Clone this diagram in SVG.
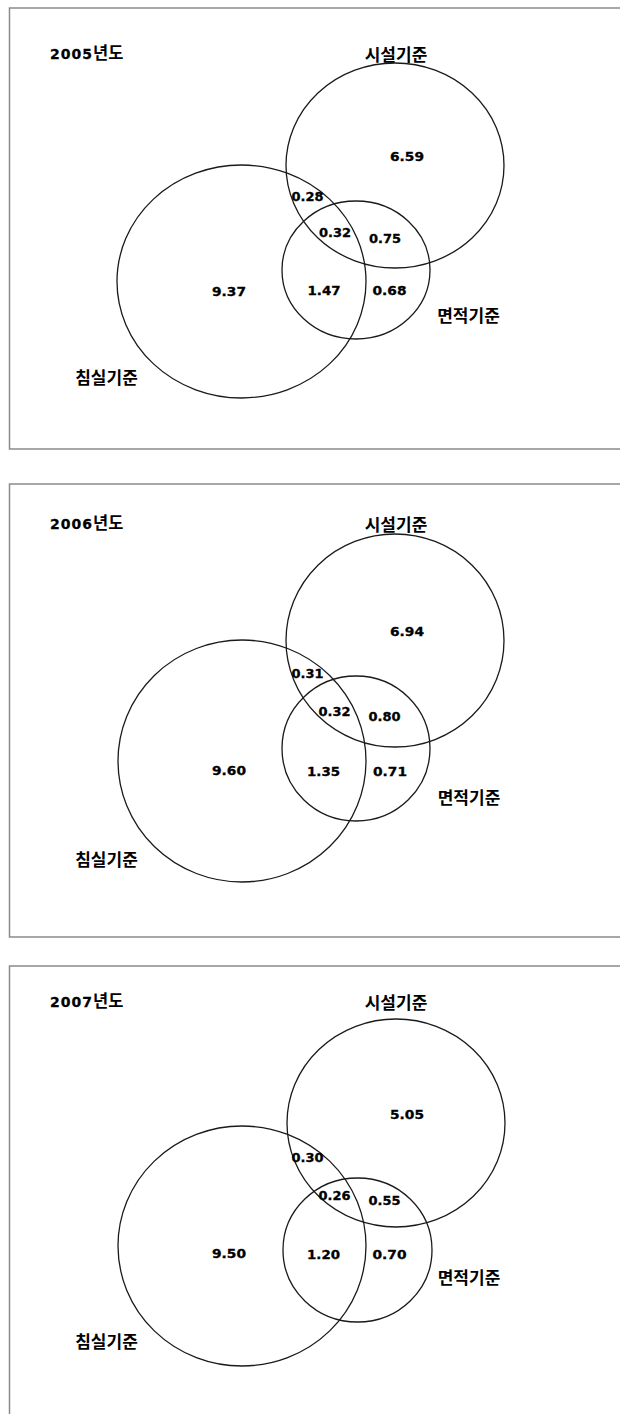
<svg xmlns="http://www.w3.org/2000/svg" width="620" height="1414" viewBox="0 0 620 1414">
<style>
.frame{fill:none;stroke:#8a8a8a;stroke-width:1.5}
.set{fill:none;stroke:#1a1a1a;stroke-width:1.3}
.num{font-family:"DejaVu Sans","Liberation Sans",sans-serif;font-weight:bold;font-size:12px;fill:#000;stroke:#000;stroke-width:0.3;text-anchor:middle}
.lbl{font-family:"Noto Sans CJK KR","Noto Sans",sans-serif;font-weight:bold;font-size:17px;fill:#000;text-anchor:middle}
.ttl{fill:#000}
.dg{font-family:"DejaVu Sans","Liberation Sans",sans-serif;font-weight:bold;font-size:14px;letter-spacing:1px;stroke:#000;stroke-width:0.3}
.kr{font-family:"Noto Sans CJK KR","Noto Sans",sans-serif;font-weight:bold;font-size:16.5px;letter-spacing:0}
</style>
<rect x="0" y="0" width="620" height="1414" fill="#fff"/>

<g id="panel-2005">
<rect class="frame" x="9.5" y="8" width="620" height="441"/>
<text id="title-2005" class="ttl" x="50" y="58.5"><tspan class="dg">2005</tspan><tspan class="kr">년도</tspan></text>
<g id="set-facility-2005"><ellipse class="set" cx="395" cy="165.5" rx="109" ry="102.5"/><text class="lbl" x="396" y="60.5">시설기준</text></g>
<g id="set-area-2005"><ellipse class="set" cx="356" cy="270" rx="74" ry="69"/><text class="lbl" x="468.5" y="321.5">면적기준</text></g>
<g id="set-bedroom-2005"><ellipse class="set" cx="241.5" cy="281.5" rx="124.5" ry="116.5"/><text class="lbl" x="106.5" y="383.5">침실기준</text></g>
<g id="values-2005">
<text class="num" x="407" y="161.4" textLength="34" lengthAdjust="spacingAndGlyphs">6.59</text>
<text class="num" x="307.5" y="201.4" textLength="32" lengthAdjust="spacingAndGlyphs">0.28</text>
<text class="num" x="335" y="237.4" textLength="32" lengthAdjust="spacingAndGlyphs">0.32</text>
<text class="num" x="385" y="243.4" textLength="32" lengthAdjust="spacingAndGlyphs">0.75</text>
<text class="num" x="324" y="295.4" textLength="33" lengthAdjust="spacingAndGlyphs">1.47</text>
<text class="num" x="389.5" y="295.4" textLength="34" lengthAdjust="spacingAndGlyphs">0.68</text>
<text class="num" x="229" y="296.4" textLength="34" lengthAdjust="spacingAndGlyphs">9.37</text>
</g>
</g>

<g id="panel-2006">
<rect class="frame" x="9.5" y="484" width="620" height="453"/>
<text id="title-2006" class="ttl" x="50" y="528.5"><tspan class="dg">2006</tspan><tspan class="kr">년도</tspan></text>
<g id="set-facility-2006"><ellipse class="set" cx="395" cy="640.5" rx="109" ry="106.5"/><text class="lbl" x="396" y="530.5">시설기준</text></g>
<g id="set-area-2006"><ellipse class="set" cx="356" cy="748.5" rx="74" ry="72.5"/><text class="lbl" x="469" y="803.5">면적기준</text></g>
<g id="set-bedroom-2006"><ellipse class="set" cx="242" cy="761" rx="124" ry="121"/><text class="lbl" x="106.5" y="865.5">침실기준</text></g>
<g id="values-2006">
<text class="num" x="407" y="636.4" textLength="34" lengthAdjust="spacingAndGlyphs">6.94</text>
<text class="num" x="307.5" y="678.4" textLength="32" lengthAdjust="spacingAndGlyphs">0.31</text>
<text class="num" x="334.5" y="716.4" textLength="32" lengthAdjust="spacingAndGlyphs">0.32</text>
<text class="num" x="384.5" y="721.4" textLength="32" lengthAdjust="spacingAndGlyphs">0.80</text>
<text class="num" x="323.5" y="776.4" textLength="33" lengthAdjust="spacingAndGlyphs">1.35</text>
<text class="num" x="390" y="776.4" textLength="34" lengthAdjust="spacingAndGlyphs">0.71</text>
<text class="num" x="229" y="775.4" textLength="34" lengthAdjust="spacingAndGlyphs">9.60</text>
</g>
</g>

<g id="panel-2007">
<rect class="frame" x="9.5" y="966" width="620" height="460"/>
<text id="title-2007" class="ttl" x="50" y="1006.5"><tspan class="dg">2007</tspan><tspan class="kr">년도</tspan></text>
<g id="set-facility-2007"><ellipse class="set" cx="396" cy="1123" rx="109" ry="104"/><text class="lbl" x="396" y="1009">시설기준</text></g>
<g id="set-area-2007"><ellipse class="set" cx="357.5" cy="1250" rx="74.5" ry="72"/><text class="lbl" x="469" y="1284">면적기준</text></g>
<g id="set-bedroom-2007"><ellipse class="set" cx="242" cy="1246" rx="124" ry="120"/><text class="lbl" x="106.5" y="1348">침실기준</text></g>
<g id="values-2007">
<text class="num" x="407" y="1119.4" textLength="34" lengthAdjust="spacingAndGlyphs">5.05</text>
<text class="num" x="307.5" y="1162.4" textLength="32" lengthAdjust="spacingAndGlyphs">0.30</text>
<text class="num" x="334.5" y="1200.4" textLength="32" lengthAdjust="spacingAndGlyphs">0.26</text>
<text class="num" x="384.5" y="1205.4" textLength="32" lengthAdjust="spacingAndGlyphs">0.55</text>
<text class="num" x="323.5" y="1259.4" textLength="33" lengthAdjust="spacingAndGlyphs">1.20</text>
<text class="num" x="389.5" y="1259.4" textLength="34" lengthAdjust="spacingAndGlyphs">0.70</text>
<text class="num" x="229" y="1258.4" textLength="34" lengthAdjust="spacingAndGlyphs">9.50</text>
</g>
</g>
</svg>
